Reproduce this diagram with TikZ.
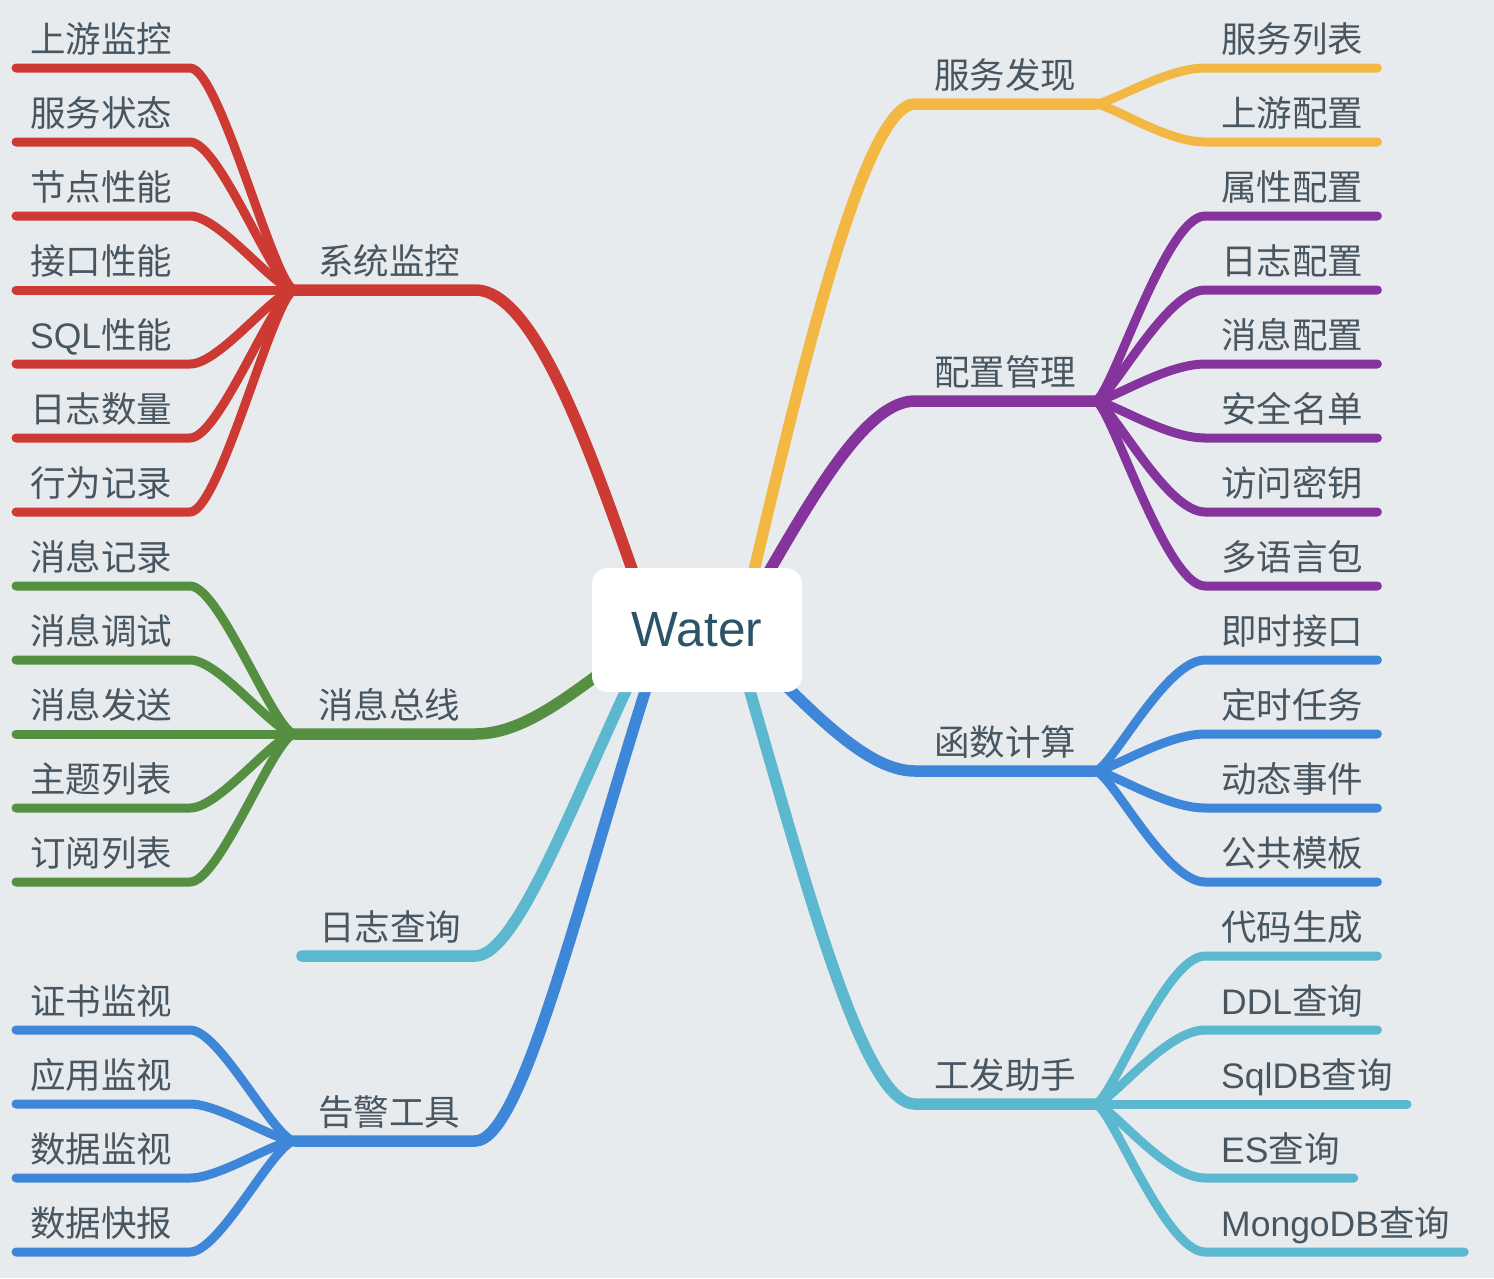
\documentclass[tikz,border=0pt]{standalone}
\usepackage{fontspec}
\setmainfont{Noto Sans CJK SC}
\newfontfamily\enfont{Liberation Sans}
\usetikzlibrary{calc}

\definecolor{bg}{RGB}{231,235,238}
\definecolor{txt}{RGB}{72,86,97}
\definecolor{watertxt}{RGB}{44,84,104}
\definecolor{cred}{RGB}{205,58,51}
\definecolor{cyel}{RGB}{242,184,67}
\definecolor{cpur}{RGB}{132,52,156}
\definecolor{cgrn}{RGB}{84,143,66}
\definecolor{ccyan}{RGB}{91,184,207}
\definecolor{cblue}{RGB}{61,134,216}

\tikzset{
  lbl/.style={anchor=base west, inner sep=0pt, text=txt, font=\fontsize{35.5}{40}\selectfont},
  mainlbl/.style={lbl, anchor=base},
  main/.style={line width=11.5pt, line cap=round},
  sub/.style={line width=9pt, line cap=round}
}

\begin{document}
\begin{tikzpicture}[x=1pt,y=-1pt]
\fill[bg] (0,0) rectangle (1494,1278);
\coordinate (c) at (697,630);

% hubs
\coordinate (hubjk) at (295,290);
\coordinate (hubxx) at (295,734);
\coordinate (hubrz) at (302,956);
\coordinate (hubgj) at (295,1141);
\coordinate (hubfw) at (1095,104);
\coordinate (hubpz) at (1095,401);
\coordinate (hubhs) at (1095,771);
\coordinate (hubgf) at (1095,1104);

% left side
\foreach \t [count=\i] in {上游监控,服务状态,节点性能,接口性能,{{\enfont SQL}性能},日志数量,行为记录} {
  \pgfmathsetmacro\cy{68+74*(\i-1)}
  \node[lbl] (jk\i) at (30,\cy-16) {\t};
  \draw[cred, sub] ($(jk\i.base west)+(-14,16)$) -- (190,\cy) .. controls (220,\cy) and (275,290) .. (hubjk);
}
\draw[cred, main] (hubjk) -- (475,290) .. controls (540,290) and (600,480) .. ($(c)+(-47,-10)$);

\foreach \t [count=\i] in {消息记录,消息调试,消息发送,主题列表,订阅列表} {
  \pgfmathsetmacro\cy{586+74*(\i-1)}
  \node[lbl] (xx\i) at (30,\cy-16) {\t};
  \draw[cgrn, sub] ($(xx\i.base west)+(-14,16)$) -- (190,\cy) .. controls (220,\cy) and (275,734) .. (hubxx);
}
\draw[cgrn, main] (hubxx) -- (475,734) .. controls (530,734) and (580,685) .. ($(c)+(-57,15)$);

\draw[ccyan, main] (hubrz) -- (475,956) .. controls (520,956) and (580,780) .. ($(c)+(-42,0)$);

\foreach \t [count=\i] in {证书监视,应用监视,数据监视,数据快报} {
  \pgfmathsetmacro\cy{1030+74*(\i-1)}
  \node[lbl] (gj\i) at (30,\cy-16) {\t};
  \draw[cblue, sub] ($(gj\i.base west)+(-14,16)$) -- (190,\cy) .. controls (220,\cy) and (275,1141) .. (hubgj);
}
\draw[cblue, main] (hubgj) -- (475,1141) .. controls (525,1141) and (585,870) .. ($(c)+(-32,0)$);

\node[mainlbl] (jk) at ($(hubjk)+(94,-16)$) {系统监控};
\node[mainlbl] (xx) at ($(hubxx)+(94,-16)$) {消息总线};
\node[mainlbl] (rz) at ($(hubrz)+(88,-16)$) {日志查询};
\node[mainlbl] (gj) at ($(hubgj)+(94,-16)$) {告警工具};

% right side
\foreach \t [count=\i] in {服务列表,上游配置} {
  \pgfmathsetmacro\cy{68+74*(\i-1)}
  \node[lbl] (fw\i) at (1221,\cy-16) {\t};
  \draw[cyel, sub] (hubfw) .. controls +(15,0) and (1165,\cy) .. (1205,\cy) -- ($(fw\i.base east)+(14,16)$);
}
\draw[cyel, main] ($(c)+(43,0)$) .. controls (790,420) and (860,104) .. (915,104) -- (hubfw);

\foreach \t [count=\i] in {属性配置,日志配置,消息配置,安全名单,访问密钥,多语言包} {
  \pgfmathsetmacro\cy{216+74*(\i-1)}
  \node[lbl] (pz\i) at (1221,\cy-16) {\t};
  \draw[cpur, sub] (hubpz) .. controls +(15,0) and (1165,\cy) .. (1205,\cy) -- ($(pz\i.base east)+(14,16)$);
}
\draw[cpur, main] ($(c)+(38,0)$) .. controls (800,520) and (860,401) .. (915,401) -- (hubpz);

\foreach \t [count=\i] in {即时接口,定时任务,动态事件,公共模板} {
  \pgfmathsetmacro\cy{660+74*(\i-1)}
  \node[lbl] (hs\i) at (1221,\cy-16) {\t};
  \draw[cblue, sub] (hubhs) .. controls +(15,0) and (1165,\cy) .. (1205,\cy) -- ($(hs\i.base east)+(14,16)$);
}
\draw[cblue, main] ($(c)+(63,30)$) .. controls (820,720) and (870,771) .. (915,771) -- (hubhs);

\foreach \t [count=\i] in {代码生成,{{\enfont DDL}查询},{{\enfont SqlDB}查询},{{\enfont ES}查询},{{\enfont MongoDB}查询}} {
  \pgfmathsetmacro\cy{956+74*(\i-1)}
  \node[lbl] (gf\i) at (1221,\cy-16) {\t};
  \draw[ccyan, sub] (hubgf) .. controls +(15,0) and (1165,\cy) .. (1205,\cy) -- ($(gf\i.base east)+(14,16)$);
}
\draw[ccyan, main] ($(c)+(38,10)$) .. controls (800,860) and (860,1104) .. (915,1104) -- (hubgf);

\node[mainlbl] (fw) at ($(hubfw)+(-90,-16)$) {服务发现};
\node[mainlbl] (pz) at ($(hubpz)+(-90,-16)$) {配置管理};
\node[mainlbl] (hs) at ($(hubhs)+(-90,-16)$) {函数计算};
\node[mainlbl] (gf) at ($(hubgf)+(-90,-16)$) {工发助手};

% center
\node[fill=white, rounded corners=16pt, minimum width=210pt, minimum height=124pt, inner sep=0pt,
  text=watertxt, font=\enfont\fontsize{49.5}{56}\selectfont] (water) at (c) {Water};
\end{tikzpicture}
\end{document}
